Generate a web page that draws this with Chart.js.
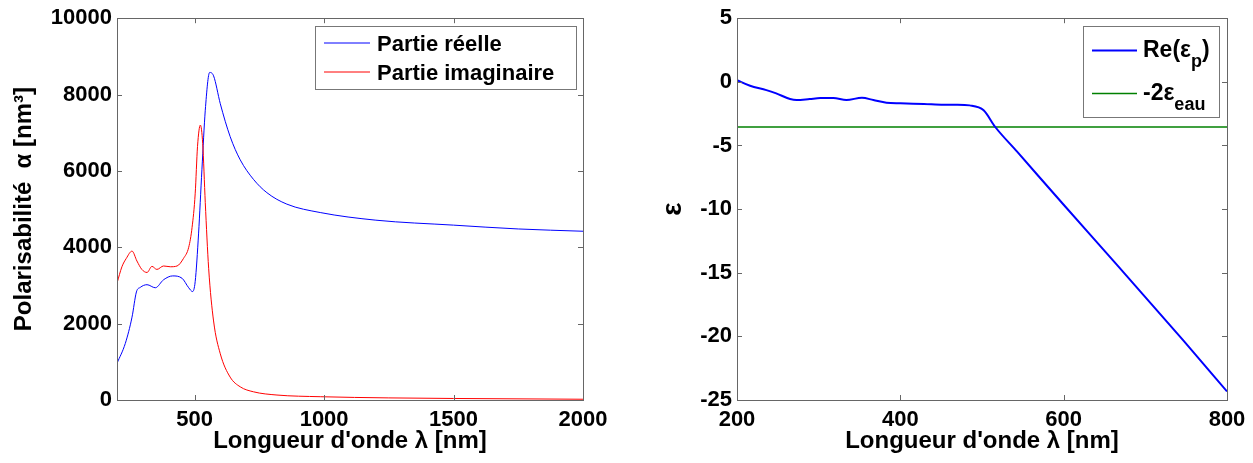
<!DOCTYPE html>
<html>
<head>
<meta charset="utf-8">
<script src="https://cdn.jsdelivr.net/npm/chart.js@4"></script>
<style>
html, body { margin: 0; padding: 0; background: #fff; }
#wrap { position: relative; width: 1253px; height: 463px; }
.box { position: absolute; top: 0; height: 463px; }
</style>
</head>
<body>
<div id="wrap">
    <div class="box" style="left:0;width:626px"><canvas id="chartAlpha"></canvas></div>
    <div class="box" style="left:626px;width:627px"><canvas id="chartEps"></canvas></div>
</div>
<script>
// polarisabilité - partie réelle
const lambdaReelle = [200, 232, 258, 275, 290, 316, 348, 380, 415, 451, 477, 492, 502, 515, 528, 541, 558, 573, 599, 637, 676, 727, 779, 856, 985, 1200, 1500, 1750, 2000]
const alphaReelle = [960, 1480, 2170, 2830, 2950, 3020, 2940, 3150, 3250, 3190, 2940, 2840, 3100, 4350, 6030, 7590, 8580, 8490, 7760, 6900, 6290, 5780, 5430, 5130, 4910, 4710, 4580, 4480, 4420]

// polarisabilité - partie imaginaire
const lambdaImag = [200, 219, 236, 258, 277, 296, 316, 335, 354, 380, 406, 432, 457, 477, 490, 502, 511, 522, 531, 541, 554, 573, 599, 637, 676, 727, 818, 985, 1250, 1500, 2000]
const alphaImag = [3060, 3490, 3710, 3900, 3640, 3420, 3340, 3500, 3420, 3510, 3490, 3510, 3710, 4000, 4520, 5400, 6640, 7200, 6720, 5170, 3450, 2070, 1210, 600, 345, 215, 130, 86, 55, 40, 20]

// permittivité Re(eps_p)
const lambdaEps = [200, 216, 236, 248, 265, 273, 289, 302, 318, 334, 353, 367, 383, 400, 429, 453, 470, 485, 502, 516, 543, 600, 665, 747, 800]
const epsReel = [0.13, -0.31, -0.65, -0.91, -1.35, -1.43, -1.35, -1.28, -1.28, -1.43, -1.25, -1.43, -1.64, -1.69, -1.74, -1.80, -1.80, -1.85, -2.23, -3.53, -5.49, -9.66, -14.36, -20.36, -24.33]

// -2 eps_eau
const lambdaEau = [200, 800]
const epsEau = [-3.55, -3.55]

// ticks
const ticksXAlpha = [500, 1000, 1500, 2000]
const ticksXEps = [200, 400, 600, 800]

const FONT = '"Liberation Sans", Arial, sans-serif'
const pts = (xs, ys) => xs.map((x, i) => ({ x: x, y: ys[i] }))

// cadre + ticks vers l'intérieur (style matlab)
const cadre = {
    id: 'cadre',
    afterDraw(chart) {
        const { ctx, chartArea: a, scales } = chart
        ctx.save()
        ctx.strokeStyle = '#666'
        ctx.lineWidth = 1
        ctx.strokeRect(Math.round(a.left) + 0.5, Math.round(a.top) + 0.5, Math.round(a.right - a.left), Math.round(a.bottom - a.top))
        ctx.beginPath()
        scales.x.ticks.forEach(t => {
            const px = Math.round(scales.x.getPixelForValue(t.value)) + 0.5
            ctx.moveTo(px, a.bottom); ctx.lineTo(px, a.bottom - 5)
            ctx.moveTo(px, a.top); ctx.lineTo(px, a.top + 5)
        })
        scales.y.ticks.forEach(t => {
            const py = Math.round(scales.y.getPixelForValue(t.value)) + 0.5
            ctx.moveTo(a.left, py); ctx.lineTo(a.left + 5, py)
            ctx.moveTo(a.right, py); ctx.lineTo(a.right - 5, py)
        })
        ctx.stroke()

        // legende
        const lg = chart.options.plugins.cadre
        const x0 = a.right - lg.right - lg.width
        const y0 = a.top + lg.top
        ctx.fillStyle = '#fff'
        ctx.fillRect(x0, y0, lg.width, lg.height)
        ctx.strokeStyle = '#777'
        ctx.strokeRect(Math.round(x0) + 0.5, Math.round(y0) + 0.5, lg.width, lg.height)
        lg.items.forEach((it, i) => {
            const ds = chart.data.datasets[it.ds]
            const ry = Math.round(y0 + lg.rowY[i]) + (ds.borderWidth === 1 ? 0 : 0.5)
            ctx.strokeStyle = ds.borderColor
            ctx.lineWidth = ds.borderWidth
            ctx.beginPath()
            ctx.moveTo(x0 + 9, ry); ctx.lineTo(x0 + 9 + lg.lineLen, ry)
            ctx.stroke()
            let tx = x0 + lg.textX
            const base = Math.round(ry) + lg.baseOff
            ctx.fillStyle = '#000'
            ctx.textBaseline = 'alphabetic'
            it.parts.forEach(p => {
                ctx.font = 'bold ' + (p.sub ? lg.subSize : lg.size) + 'px ' + FONT
                ctx.fillText(p.t, tx, base + (p.sub ? lg.subOff : 0))
                tx += ctx.measureText(p.t).width
            })
        })
        ctx.restore()
    }
}

const tickFont = { family: FONT, size: 22, weight: 'bold' }
const titleFont = { family: FONT, size: 24, weight: 'bold' }

function axeX(ticks, min, max) {
    return {
        type: 'linear', min: min, max: max,
        afterBuildTicks: s => { s.ticks = ticks.map(v => ({ value: v })) },
        afterFit: s => { s.height = 63 },
        grid: { display: false, drawTicks: false },
        border: { display: false },
        ticks: { color: '#000', font: tickFont, padding: 7, maxRotation: 0, callback: v => String(v) },
        title: { display: true, text: "Longueur d'onde λ [nm]", color: '#000', font: titleFont, padding: { top: 0, bottom: 7 } }
    }
}

// POLARISABILITE
new Chart(document.getElementById('chartAlpha'), {
    type: 'line',
    data: {
        datasets: [{
            label: 'Partie réelle',
            data: pts(lambdaReelle, alphaReelle),
            borderColor: '#0000ff',
            borderWidth: 1,
            pointRadius: 0,
            cubicInterpolationMode: 'monotone',
            order: 1
        }, {
            label: 'Partie imaginaire',
            data: pts(lambdaImag, alphaImag),
            borderColor: '#ff0000',
            borderWidth: 1,
            pointRadius: 0,
            cubicInterpolationMode: 'monotone',
            order: 0
        }]
    },
    options: {
        responsive: true,
        maintainAspectRatio: false,
        animation: false,
        layout: { padding: { left: 0, right: 43, top: 13, bottom: 0 } },
        plugins: {
            legend: { display: false },
            tooltip: { enabled: false },
            cadre: {
                right: 7, top: 8, width: 261, height: 63,
                rowY: [17, 46], lineLen: 46, textX: 62, baseOff: 8, size: 22, subSize: 17, subOff: 9,
                items: [
                    { ds: 0, parts: [{ t: 'Partie réelle' }] },
                    { ds: 1, parts: [{ t: 'Partie imaginaire' }] }
                ]
            }
        },
        scales: {
            x: axeX(ticksXAlpha, 200, 2000),
            y: {
                min: 0, max: 10000,
                ticks: { stepSize: 2000, color: '#000', font: tickFont, padding: 5, callback: v => String(v) },
                afterFit: s => { s.width = 117 },
                grid: { display: false, drawTicks: false },
                border: { display: false },
                title: { display: true, text: 'Polarisabilité  α [nm³]', color: '#000', font: titleFont, padding: { top: 10, bottom: 0 } }
            }
        }
    },
    plugins: [cadre]
});

// PERMITTIVITE
new Chart(document.getElementById('chartEps'), {
    type: 'line',
    data: {
        datasets: [{
            label: 'Re(εp)',
            data: pts(lambdaEps, epsReel),
            borderColor: '#0000ff',
            borderWidth: 2,
            pointRadius: 0,
            cubicInterpolationMode: 'monotone'
        }, {
            label: '-2εeau',
            data: pts(lambdaEau, epsEau),
            borderColor: '#008000',
            borderWidth: 1.5,
            pointRadius: 0
        }]
    },
    options: {
        responsive: true,
        maintainAspectRatio: false,
        animation: false,
        layout: { padding: { left: 0, right: 26, top: 16, bottom: 0 } },
        plugins: {
            legend: { display: false },
            tooltip: { enabled: false },
            cadre: {
                right: 8, top: 8, width: 136, height: 91,
                rowY: [24, 67], lineLen: 45, textX: 60, baseOff: 6, size: 23, subSize: 18, subOff: 10,
                items: [
                    { ds: 0, parts: [{ t: 'Re(ε' }, { t: 'p', sub: true }, { t: ')' }] },
                    { ds: 1, parts: [{ t: '-2ε' }, { t: 'eau', sub: true }] }
                ]
            }
        },
        scales: {
            x: axeX(ticksXEps, 200, 800),
            y: {
                min: -25, max: 5,
                ticks: { stepSize: 5, color: '#000', font: tickFont, padding: 5, callback: v => String(v) },
                afterFit: s => { s.width = 111 },
                grid: { display: false, drawTicks: false },
                border: { display: false },
                title: { display: true, text: 'ε', color: '#000', font: { family: FONT, size: 28, weight: 'bold' }, padding: { top: 30, bottom: 0 } }
            }
        }
    },
    plugins: [cadre]
});
</script>
</body>
</html>
